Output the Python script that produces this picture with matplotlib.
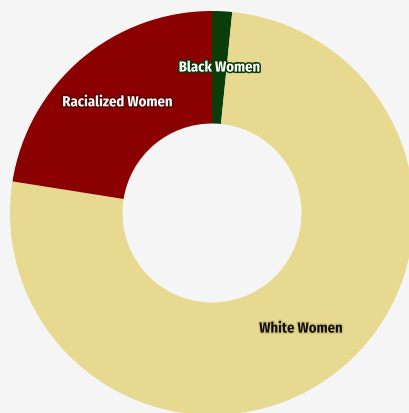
import numpy as np
import matplotlib.pyplot as plt
import matplotlib.patheffects as pe

# shares of the group (percent)
gruppen = ["Black Women", "White Women", "Racialized Women"]
anteile = [1.6, 75.9, 22.5]
farben = ["#0a3d0a", "#e7d98f", "#8b0000"]
textfarben = ["white", "#111111", "white"]
randfarben = ["#0a3d0a", "#d6c87e", "#5a0000"]

fig = plt.figure(figsize=(4.09, 4.13), dpi=100, facecolor="#f5f5f5")
ax = fig.add_axes([0, 0, 1, 1])
ax.set_facecolor("#f5f5f5")

mitte = (212, 200)
radius = 202
breite = 0.557

keile, _ = ax.pie(anteile, colors=farben, startangle=90, counterclock=False,
                  center=mitte, radius=radius, frame=True,
                  wedgeprops=dict(width=radius * breite, linewidth=0))
ax.set_xlim(0, 409)
ax.set_ylim(0, 413)
ax.set_aspect("equal")
ax.axis("off")

r_text = radius * (1 - breite / 2)
for keil, name, tf, rf in zip(keile, gruppen, textfarben, randfarben):
    winkel = np.deg2rad((keil.theta1 + keil.theta2) / 2)
    x = mitte[0] + r_text * np.cos(winkel)
    y = mitte[1] + r_text * np.sin(winkel)
    ax.text(x, y, name, ha="center", va="center", color=tf, fontsize=10.5,
            fontweight="bold", family=["Fira Sans Condensed", "DejaVu Sans"],
            path_effects=[pe.withStroke(linewidth=2.2, foreground=rf)])

fig.savefig("out.png", dpi=100, facecolor=fig.get_facecolor())
